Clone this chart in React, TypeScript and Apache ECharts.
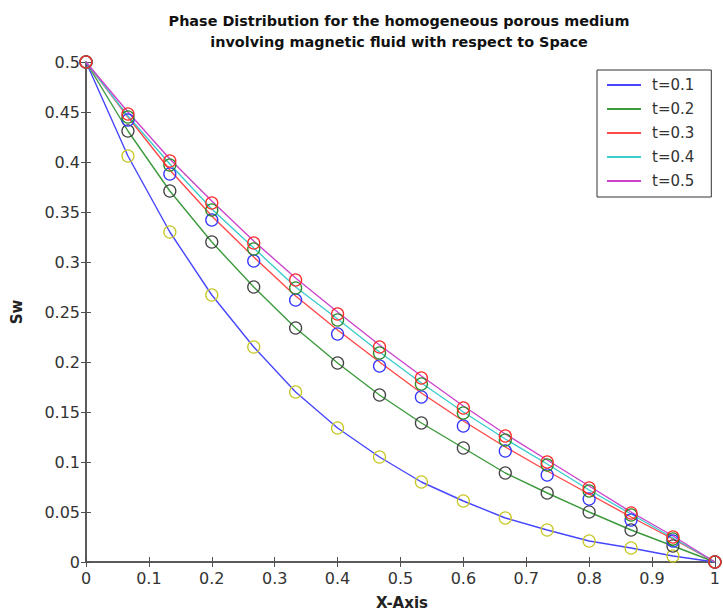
import React, { useEffect, useRef } from "react";
import * as echarts from "echarts";

const xs = [0, 0.0667, 0.1333, 0.2, 0.2667, 0.3333, 0.4, 0.4667, 0.5333, 0.6, 0.6667, 0.7333, 0.8, 0.8667, 0.9333, 1];

const seriesNames = ["t=0.1", "t=0.2", "t=0.3", "t=0.4", "t=0.5"];

// solid curves
const lineT1 = [0.5, 0.406, 0.330, 0.267, 0.215, 0.170, 0.134, 0.105, 0.080, 0.061, 0.044, 0.032, 0.021, 0.014, 0.006, 0];
const lineT2 = [0.5, 0.431, 0.371, 0.320, 0.275, 0.234, 0.199, 0.167, 0.139, 0.114, 0.089, 0.069, 0.050, 0.032, 0.016, 0];
const lineT3 = [0.5, 0.445, 0.392, 0.346, 0.305, 0.266, 0.232, 0.200, 0.169, 0.141, 0.115, 0.091, 0.068, 0.045, 0.023, 0];
const lineT4 = [0.5, 0.446, 0.398, 0.353, 0.314, 0.275, 0.243, 0.210, 0.179, 0.150, 0.123, 0.098, 0.072, 0.048, 0.024, 0];
const lineT5 = [0.5, 0.450, 0.403, 0.361, 0.321, 0.284, 0.250, 0.217, 0.186, 0.156, 0.128, 0.102, 0.076, 0.050, 0.026, 0];

// circle markers
const markYellow = [0.5, 0.406, 0.330, 0.267, 0.215, 0.170, 0.134, 0.105, 0.080, 0.061, 0.044, 0.032, 0.021, 0.014, 0.006, 0];
const markBlack = [0.5, 0.431, 0.371, 0.320, 0.275, 0.234, 0.199, 0.167, 0.139, 0.114, 0.089, 0.069, 0.050, 0.032, 0.016, 0];
const markBlue = [0.5, 0.442, 0.388, 0.342, 0.301, 0.262, 0.228, 0.196, 0.165, 0.136, 0.111, 0.087, 0.063, 0.042, 0.021, 0];
const markGreen = [0.5, 0.445, 0.397, 0.352, 0.313, 0.274, 0.242, 0.209, 0.178, 0.149, 0.122, 0.097, 0.071, 0.047, 0.023, 0];
const markRed = [0.5, 0.448, 0.401, 0.359, 0.319, 0.282, 0.248, 0.215, 0.184, 0.154, 0.126, 0.100, 0.074, 0.049, 0.025, 0];

const xTicks = ["0", "0.1", "0.2", "0.3", "0.4", "0.5", "0.6", "0.7", "0.8", "0.9", "1"];
const yTicks = ["0", "0.05", "0.1", "0.15", "0.2", "0.25", "0.3", "0.35", "0.4", "0.45", "0.5"];

const lineColors = ["#4646ff", "#3c9a3c", "#ff4848", "#3ccccc", "#cc44cc"];
const markColors = ["#c8c828", "#444444", "#3434ff", "#2a8a2a", "#ff2a2a"];

const FONT = "DejaVu Sans";

export default function App() {
  const ref = useRef<HTMLDivElement>(null);
  useEffect(() => {
    if (!ref.current) return;
    const chart = echarts.init(ref.current, undefined, { renderer: "svg" });
    const pair = (arr: number[]) => xs.map((x, i) => [x, arr[i]]);
    const lines = [lineT1, lineT2, lineT3, lineT4, lineT5];
    const marks = [markYellow, markBlack, markBlue, markGreen, markRed];

    const axisLine = { show: true, lineStyle: { color: "#505050", width: 1.5 } };
    const tick = { show: true, inside: true, length: 5, lineStyle: { color: "#505050", width: 1 } };
    const label = { color: "#333", fontSize: 16, fontFamily: FONT };

    const series: any[] = [];
    lines.forEach((arr, i) => {
      series.push({
        name: seriesNames[i],
        type: "line",
        data: pair(arr),
        showSymbol: false,
        symbol: "none",
        lineStyle: { color: lineColors[i], width: 1.4 },
        itemStyle: { color: lineColors[i] },
        z: 2,
      });
    });
    marks.forEach((arr, i) => {
      series.push({
        name: "m" + i,
        type: "line",
        data: pair(arr),
        lineStyle: { width: 0, opacity: 0 },
        symbol: "circle",
        symbolSize: 12,
        showSymbol: true,
        clip: false,
        itemStyle: { color: "rgba(0,0,0,0)", borderColor: markColors[i], borderWidth: 1.3 },
        z: 3 + i,
      });
    });

    chart.setOption({
      animation: false,
      backgroundColor: "#fff",
      grid: { left: 86, top: 62, width: 633, height: 500, containLabel: false },
      legend: {
        data: seriesNames.map((n) => ({ name: n })),
        orient: "vertical",
        left: 597,
        top: 70,
        padding: [7, 17, 8, 10],
        itemGap: 8,
        itemWidth: 34,
        itemHeight: 2,
        icon: "rect",
        borderColor: "#333",
        borderWidth: 1,
        borderRadius: 0,
        backgroundColor: "#fff",
        z: 10,
        textStyle: { fontSize: 15, fontFamily: FONT, color: "#333", lineHeight: 16, padding: [0, 0, 0, 6] },
      },
      xAxis: [
        {
          type: "value",
          min: 0,
          max: 1,
          interval: 0.1,
          position: "bottom",
          axisLine,
          axisTick: tick,
          splitLine: { show: false },
          axisLabel: { ...label, margin: 8, formatter: (v: number) => xTicks[Math.round(v * 10)] },
        },
        {
          type: "value",
          min: 0,
          max: 1,
          interval: 0.1,
          position: "top",
          axisLine,
          axisTick: tick,
          splitLine: { show: false },
          axisLabel: { show: false },
        },
      ],
      yAxis: [
        {
          type: "value",
          min: 0,
          max: 0.5,
          interval: 0.05,
          position: "left",
          axisLine,
          axisTick: tick,
          splitLine: { show: false },
          axisLabel: { ...label, margin: 6, formatter: (v: number) => yTicks[Math.round(v * 20)] },
        },
        {
          type: "value",
          min: 0,
          max: 0.5,
          interval: 0.05,
          position: "right",
          axisLine,
          axisTick: tick,
          splitLine: { show: false },
          axisLabel: { show: false },
        },
      ],
      graphic: [
        {
          type: "text",
          x: 399,
          y: 10,
          style: {
            text: "Phase Distribution for the homogeneous porous medium\ninvolving magnetic fluid with respect to Space",
            fontSize: 14.4,
            fontWeight: "bold",
            fontFamily: FONT,
            fill: "#111",
            align: "center",
            verticalAlign: "top",
            lineHeight: 21,
          },
        },
        {
          type: "text",
          x: 402,
          y: 603,
          style: {
            text: "X-Axis",
            fontSize: 15,
            fontWeight: "bold",
            fontFamily: FONT,
            fill: "#222",
            align: "center",
            verticalAlign: "middle",
          },
        },
        {
          type: "text",
          x: 17,
          y: 312,
          rotation: Math.PI / 2,
          style: {
            text: "Sw",
            fontSize: 15,
            fontWeight: "bold",
            fontFamily: FONT,
            fill: "#222",
            align: "center",
            verticalAlign: "middle",
          },
        },
      ],
      series,
    });
    return () => chart.dispose();
  }, []);
  return <div ref={ref} style={{ width: 723, height: 612, position: "absolute", left: 0, top: 0 }} />;
}
